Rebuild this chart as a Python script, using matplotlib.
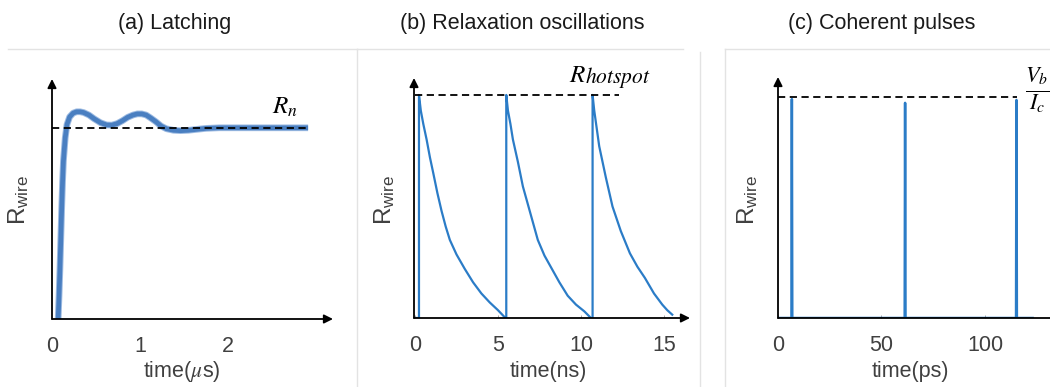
import matplotlib
matplotlib.use("Agg")
import matplotlib.pyplot as plt
from matplotlib.lines import Line2D

plt.rcParams['font.family'] = ['Liberation Sans', 'DejaVu Sans']
plt.rcParams['mathtext.fontset'] = 'custom'
plt.rcParams['mathtext.rm'] = 'Liberation Sans'
plt.rcParams['mathtext.it'] = 'Liberation Sans:italic'

# --- dados ---
titles = ['(a) Latching', '(b) Relaxation oscillations', '(c) Coherent pulses']
xlabels = [r'time($\mu$s)', 'time(ns)', 'time(ps)']

# (a) latching: R normalizado por R_n
t_a = [0.07, 0.08, 0.09, 0.10, 0.11, 0.12, 0.13, 0.15, 0.17, 0.20, 0.24, 0.28,
       0.32, 0.36, 0.42, 0.48, 0.55, 0.62, 0.68, 0.74, 0.80, 0.86, 0.92, 0.97,
       1.02, 1.07, 1.12, 1.18, 1.24, 1.30, 1.38, 1.46, 1.55, 1.65, 1.75, 1.90,
       2.10, 2.91]
r_a = [0.0, 0.12, 0.26, 0.42, 0.58, 0.72, 0.83, 0.95, 1.02, 1.06, 1.08, 1.087,
       1.087, 1.083, 1.07, 1.05, 1.03, 1.018, 1.017, 1.025, 1.04, 1.058, 1.07, 1.076,
       1.076, 1.07, 1.055, 1.035, 1.012, 0.998, 0.99, 0.988, 0.99, 0.995, 1.0, 1.003,
       1.003, 1.003]
ticks_a = [0, 1, 2]
rn_level = 1.0

# (b) oscilações de relaxação: R normalizado por R_hotspot
t_b = [0.0, 0.24, 0.24, 0.35, 0.50, 0.70, 0.90, 1.10, 1.35, 1.60, 1.85, 2.10,
       2.50, 3.00, 3.50, 4.00, 4.50, 5.00, 5.45,
       5.50, 5.50, 5.60, 5.75, 5.90, 6.20, 6.50, 6.80, 7.10, 7.40, 7.80, 8.25,
       8.70, 9.20, 9.70, 10.20, 10.60,
       10.70, 10.70, 10.80, 10.95, 11.10, 11.50, 11.90, 12.40, 12.95, 13.40,
       13.85, 14.40, 14.90, 15.20, 15.50]
r_b = [0.0, 0.0, 1.0, 0.93, 0.87, 0.80, 0.72, 0.65, 0.56, 0.48, 0.41, 0.35,
       0.285, 0.22, 0.16, 0.11, 0.07, 0.035, 0.0,
       0.0, 1.0, 0.93, 0.87, 0.80, 0.70, 0.59, 0.51, 0.43, 0.35, 0.28, 0.22,
       0.16, 0.10, 0.06, 0.03, 0.0,
       0.0, 1.0, 0.93, 0.85, 0.77, 0.63, 0.50, 0.39, 0.29, 0.23,
       0.18, 0.11, 0.06, 0.035, 0.015]
ticks_b = [0, 5, 10, 15]
hot_level = 1.0
hot_end = 12.3

# (c) pulsos coerentes: R normalizado por Vb/Ic
t_c = [0.0, 6.5, 6.7, 6.9, 61.2, 61.4, 61.6, 115.0, 115.2, 115.4, 123.0]
r_c = [0.0, 0.0, 0.99, 0.0, 0.0, 0.973, 0.0, 0.0, 0.986, 0.0, 0.0]
ticks_c = [0, 50, 100]
vi_level = 1.0
vi_end = 115.4

W, H = 1050, 387
fig = plt.figure(figsize=(W / 100, H / 100), dpi=100)


def fx(x):
    return x / W


def fy(y):
    return 1 - y / H


def make_ax(left, right, top, bottom):
    return fig.add_axes([fx(left), fy(bottom), fx(right - left), fy(top) - fy(bottom)])


def style(ax, xlim, ylim, ticks, tick_len):
    ax.set_xlim(*xlim)
    ax.set_ylim(*ylim)
    for s in ax.spines.values():
        s.set_visible(False)
    ax.set_yticks([])
    ax.set_xticks(ticks)
    ax.set_xticklabels([str(t) for t in ticks])
    ax.tick_params(axis='x', length=tick_len, direction='in', width=0.6,
                   color='#999999', pad=12, labelsize=15.5, labelcolor='#404040')
    arrow = dict(arrowstyle='-|>', lw=1.3, color='black', mutation_scale=13,
                 shrinkA=0, shrinkB=0)
    ax.annotate('', xy=(1, 0), xytext=(0, 0), xycoords='axes fraction',
                arrowprops=arrow, annotation_clip=False, zorder=5)
    ax.annotate('', xy=(0, 1), xytext=(0, 0), xycoords='axes fraction',
                arrowprops=arrow, annotation_clip=False, zorder=5)


# painel (a)
ax1 = make_ax(52, 333, 79, 319)
style(ax1, (0, 3.193), (0, 1.259), ticks_a, 0)
ax1.plot(t_a, r_a, color='#9dbbe2', lw=4.8, solid_capstyle='butt', zorder=2)
ax1.plot(t_a, r_a, color='#4a7fc1', lw=3.4, solid_capstyle='butt', zorder=3)
ax1.plot([0, 2.91], [rn_level, rn_level], color='black', lw=1.3,
         dashes=(4, 2.5), zorder=4)
ax1.text(2.5, 1.05, r'$R_n$', fontsize=18, math_fontfamily='stix',
         ha='left', va='bottom')

# painel (b)
ax2 = make_ax(414, 690, 78, 318)
style(ax2, (-0.06, 16.57), (0, 1.076), ticks_b, 2)
ax2.plot(t_b, r_b, color='#2b7cc7', lw=1.6, zorder=3)
ax2.plot([0, hot_end], [hot_level, hot_level], color='black', lw=1.3,
         dashes=(4, 2.5), zorder=4)
ax2.text(9.3, 1.035, r'$R$', fontsize=18, math_fontfamily='stix',
         ha='left', va='bottom')
ax2.text(10.25, 1.02, r'$hotspot$', fontsize=15.5, math_fontfamily='stix',
         ha='left', va='bottom')

# painel (c)
ax3 = make_ax(778, 1062, 77, 318)
style(ax3, (0, 137.2), (0, 1.09), ticks_c, 2)
ax3.plot(t_c, r_c, color='#2b7cc7', lw=1.8, zorder=3)
ax3.plot([0, vi_end], [vi_level, vi_level], color='black', lw=1.3,
         dashes=(4, 2.5), zorder=4)
fig.text(fx(1025), fy(90), r'$\frac{V_b}{I_c}$', fontsize=23,
         math_fontfamily='stix', ha='left', va='center')

# titulos, rotulos
for title, cx in zip(titles, [175, 522, 882]):
    fig.text(fx(cx), fy(24), title, fontsize=15.5, ha='center', va='center',
             color='#1a1a1a')
for lab, cx in zip(xlabels, [182, 548, 910]):
    fig.text(fx(cx), fy(372), lab, fontsize=15.5, ha='center', va='center',
             color='#404040', math_fontfamily='stix' if 'mu' in lab else None)
for cx in [19, 385, 748]:
    fig.text(fx(cx), fy(200), r'R$_{\mathrm{wire}}$', fontsize=17.5, rotation=90,
             ha='center', va='center', color='#404040')

# molduras cinza dos paineis
frame = dict(color='#e3e3e3', lw=1.0, transform=fig.transFigure)
for xs, ys in [([8, 357], [49, 49]), ([357, 357], [49, 387]),
               ([357, 683], [49, 49]), ([700, 700], [52, 387]),
               ([725, 725], [49, 387]), ([725, 1050], [49, 49])]:
    fig.add_artist(Line2D([fx(x) for x in xs], [fy(y) for y in ys], **frame))

fig.savefig('out.png', dpi=100)
